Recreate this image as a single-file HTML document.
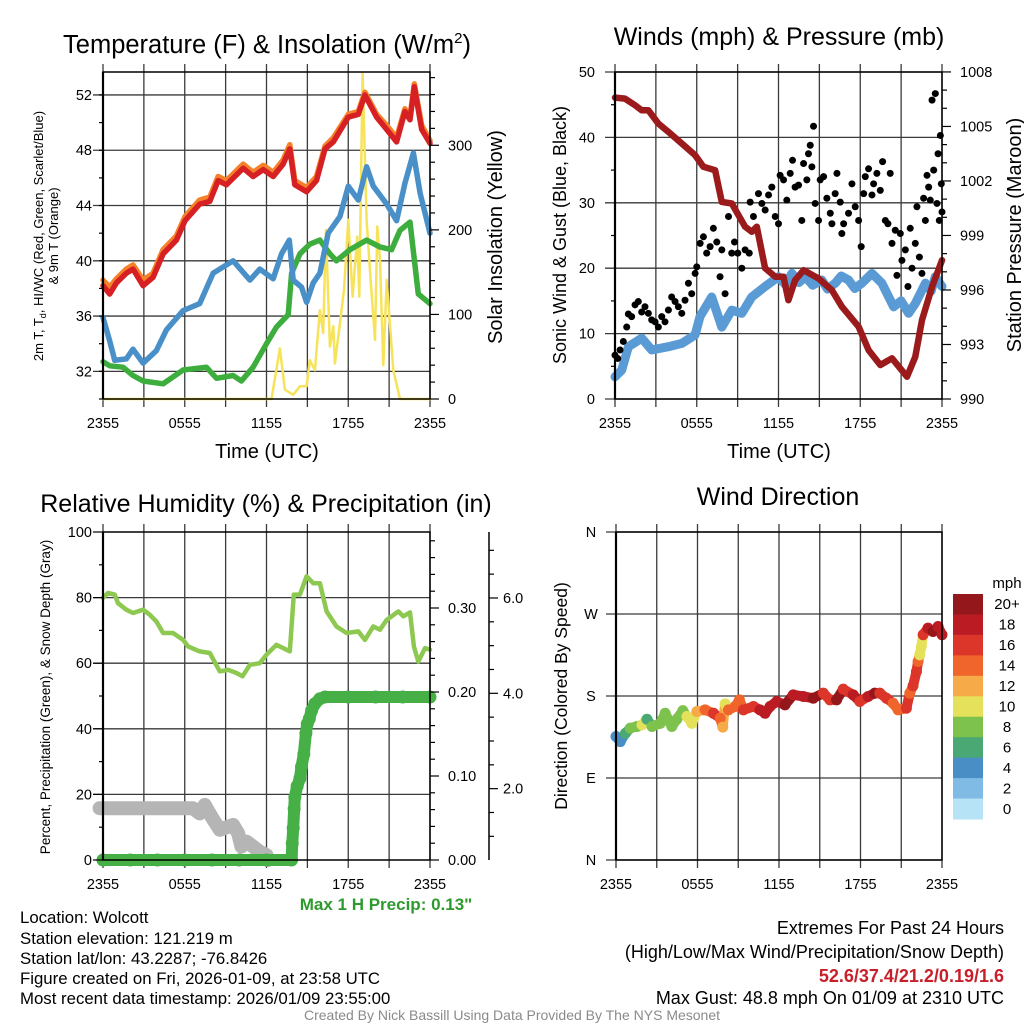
<!DOCTYPE html>
<html><head><meta charset="utf-8"><title>Wolcott Meteogram</title>
<style>
html,body{margin:0;padding:0;background:#fff;}
svg{display:block;font-family:"Liberation Sans",Arial,sans-serif;}
</style></head>
<body>
<svg id="chart" width="1024" height="1024" viewBox="0 0 1024 1024" xmlns="http://www.w3.org/2000/svg">
<rect x="0" y="0" width="1024" height="1024" fill="#fff"/>
<g id="layer-grid"></g>
<g id="layer-data"></g>
<g id="layer-axes"></g>
<g id="layer-text" fill="#000">
<text x="267" y="53" font-size="25.5" text-anchor="middle">Temperature (F) &amp; Insolation (W/m<tspan dy="-10" font-size="15">2</tspan><tspan dy="10">)</tspan></text>
<text x="779" y="45" font-size="25" text-anchor="middle">Winds (mph) &amp; Pressure (mb)</text>
<text x="266" y="512" font-size="25" text-anchor="middle">Relative Humidity (%) &amp; Precipitation (in)</text>
<text x="778" y="505" font-size="25" text-anchor="middle">Wind Direction</text>
<text x="267" y="458" font-size="20" text-anchor="middle">Time (UTC)</text>
<text x="779" y="458" font-size="20" text-anchor="middle">Time (UTC)</text>
<text transform="translate(43,236) rotate(-90)" font-size="13" text-anchor="middle">2m T, T<tspan dy="3" font-size="9">d</tspan><tspan dy="-3">, HI/WC (Red, Green, Scarlet/Blue)</tspan></text>
<text transform="translate(58,236) rotate(-90)" font-size="13" text-anchor="middle">&amp; 9m T (Orange)</text>
<text transform="translate(502,237) rotate(-90)" font-size="20" text-anchor="middle">Solar Insolation (Yellow)</text>
<text transform="translate(566,235) rotate(-90)" font-size="18" text-anchor="middle">Sonic Wind &amp; Gust (Blue, Black)</text>
<text transform="translate(1021,235) rotate(-90)" font-size="20" text-anchor="middle">Station Pressure (Maroon)</text>
<text transform="translate(50,697) rotate(-90)" font-size="13.5" text-anchor="middle">Percent, Precipitation (Green), &amp; Snow Depth (Gray)</text>
<text transform="translate(567,696) rotate(-90)" font-size="17.5" text-anchor="middle">Direction (Colored By Speed)</text>
<text x="386" y="910" font-size="17" font-weight="bold" fill="#2e9a2e" text-anchor="middle">Max 1 H Precip: 0.13"</text>
<g font-size="16.8">
<text x="20" y="923">Location: Wolcott</text>
<text x="20" y="944">Station elevation: 121.219 m</text>
<text x="20" y="964">Station lat/lon: 43.2287; -76.8426</text>
<text x="20" y="984">Figure created on Fri, 2026-01-09, at 23:58 UTC</text>
<text x="20" y="1004">Most recent data timestamp: 2026/01/09 23:55:00</text>
</g>
<g font-size="18" text-anchor="end">
<text x="1004" y="934">Extremes For Past 24 Hours</text>
<text x="1004" y="958">(High/Low/Max Wind/Precipitation/Snow Depth)</text>
<text x="1004" y="982" font-weight="bold" fill="#c8202a">52.6/37.4/21.2/0.19/1.6</text>
<text x="1004" y="1004">Max Gust: 48.8 mph On 01/09 at 2310 UTC</text>
</g>
<text x="512" y="1020" font-size="14" fill="#8a8a8a" text-anchor="middle">Created By Nick Bassill Using Data Provided By The NYS Mesonet</text>
</g>
</svg>
<script>
// ---------- DATA ----------
const timeTickHours=[0,6,12,18,24];
const timeTickLabels=['2355','0555','1155','1755','2355'];
const tempTicks=[32,36,40,44,48,52];
const insolTicks=[0,100,200,300];
const windTicks=[0,10,20,30,40,50];
const presTicks=[990,993,996,999,1002,1005,1008];
const rhTicks=[0,20,40,60,80,100];
const precipTicks=[0,0.1,0.2,0.3];
const precipTickLabels=['0.00','0.10','0.20','0.30'];
const snowTicks=[2,4,6];
const snowTickLabels=['2.0','4.0','6.0'];
const dirTicks=[0,90,180,270,360];
const dirTickLabels=['N','E','S','W','N'];
const speedBins=[0,2,4,6,8,10,12,14,16,18,20];
const speedLabels=['0','2','4','6','8','10','12','14','16','18','20+'];

const tempHours=[0,0.49,0.98,1.71,2.2,2.94,3.67,4.41,5.39,6.02,7.1,7.84,8.45,9.06,10.29,11.02,11.76,12.49,13.22,13.71,14.08,14.94,15.67,16.29,16.9,18.0,18.74,19.22,20.08,20.82,21.55,22.16,22.53,22.85,23.39,24];
const tempRed=[38.2,37.6,38.4,39.1,39.4,38.2,38.8,40.5,41.5,42.9,44.1,44.3,45.8,45.5,46.7,46.1,46.6,46.1,47.0,48.1,45.5,45.0,45.8,48.1,48.6,50.4,50.6,52.0,50.4,49.5,48.6,50.8,50.2,52.6,49.5,48.5];
const tempOrange=[38.6,38.1,38.7,39.4,39.7,38.6,39.1,40.8,41.8,43.2,44.4,44.6,46.1,45.8,47.0,46.4,46.9,46.4,47.3,48.4,45.8,45.3,46.1,48.3,48.9,50.6,50.8,52.2,50.6,49.8,48.9,51.0,50.4,52.8,49.8,48.7];
const dewHours=[0,0.49,0.86,1.71,2.2,2.94,3.92,4.65,5.88,7.1,8.08,9.55,10.78,11.51,12.49,13.1,13.67,13.96,14.57,14.94,15.43,15.92,16.53,17.39,18.0,18.74,19.35,19.84,20.82,21.55,22.16,22.78,23.27,24];
const dewBlue=[35.9,34.2,32.8,32.9,33.6,32.6,33.5,35.0,36.4,36.9,39.1,40.0,38.6,39.4,38.7,40.5,41.5,38.6,38.1,37.0,38.4,39.1,42.0,43.2,45.4,44.4,46.8,45.4,44.1,42.9,45.6,47.8,44.9,42.0];
const chillHours=[0,0.49,1.47,2.2,2.94,4.41,5.88,7.59,8.33,9.55,10.16,11.02,12.0,12.73,13.59,13.84,14.45,15.18,15.92,16.65,17.14,18.12,19.35,20.33,21.18,21.8,22.53,23.14,24];
const chillGreen=[32.7,32.4,32.3,31.7,31.3,31.1,32.1,32.3,31.5,31.7,31.3,32.3,34.0,35.2,36.1,39.1,40.5,41.2,41.5,40.5,40.0,40.8,41.5,41.0,40.8,42.2,42.8,37.6,36.9];
const insolHours=[0,12.37,12.98,13.35,13.96,14.45,14.94,15.18,15.55,15.92,16.16,16.36,16.65,16.9,17.02,17.39,17.69,18.0,18.32,18.66,18.81,19.05,19.35,19.64,19.96,20.13,20.33,20.57,20.82,21.31,21.8,24];
const insolValues=[0,0,60,11,5,15,15,46,34,105,78,200,62,86,42,89,129,212,121,192,121,385,212,141,70,204,164,40,141,34,0,0];

const windHours=[0,0.49,0.98,1.96,2.69,3.92,4.9,5.88,6.24,7.1,7.84,8.57,9.31,10.04,11.02,12.0,12.5,12.98,13.5,13.96,14.5,15.18,15.6,16.16,16.6,17.14,17.6,18.12,18.86,19.59,20.45,21.0,21.55,22.04,22.78,23.2,23.51,24];
const windSpeed=[3.4,4.4,8.0,9.3,7.5,8.0,8.5,9.8,12.6,15.6,11.0,13.6,13.1,15.6,17.2,18.7,17.5,19.2,17.8,18.7,17.4,18.2,16.8,17.7,18.8,18.2,16.9,17.7,19.2,17.7,14.1,15.0,13.1,14.6,17.7,16.5,18.7,17.2];
const presHours=[0,0.73,1.47,1.96,2.45,3.18,3.92,4.9,5.88,6.49,7.35,7.84,8.57,9.55,10.04,10.41,11.02,11.76,12.37,12.73,13.22,13.84,14.94,15.92,16.65,17.88,18.61,19.47,20.33,21.43,22.04,22.53,23.27,24];
const presValues=[1006.59,1006.53,1006.17,1005.89,1005.89,1005.16,1004.70,1004.06,1003.42,1002.78,1002.59,1000.85,1000.76,999.48,999.20,999.48,997.20,996.73,996.73,995.44,996.54,997.09,996.63,995.99,995.08,993.98,992.69,991.87,992.24,991.23,992.33,994.34,996.18,997.64];
const gustHours=[0.0,0.2,0.37,0.61,0.86,0.98,1.22,1.47,1.71,1.96,2.2,2.45,2.69,2.94,3.18,3.43,3.67,3.92,4.16,4.41,4.65,4.9,5.14,5.39,5.63,5.88,6.0,6.25,6.49,6.73,6.98,7.22,7.47,7.71,7.84,8.08,8.33,8.57,8.77,9.01,9.31,9.55,9.85,9.92,10.16,10.53,10.78,11.02,11.27,11.51,11.76,12.0,12.12,12.37,12.61,12.86,13.03,13.22,13.47,13.71,13.84,14.08,14.2,14.33,14.45,14.57,14.69,14.94,15.06,15.31,15.55,15.8,15.92,16.16,16.29,16.53,16.65,16.78,17.14,17.39,17.63,17.88,18.07,18.25,18.37,18.61,18.86,18.98,19.22,19.47,19.64,19.84,20.03,20.2,20.33,20.57,20.69,20.94,21.06,21.31,21.5,21.67,21.8,22.04,22.16,22.34,22.53,22.65,22.78,22.9,23.02,23.14,23.27,23.39,23.51,23.63,23.71,23.8,23.88,23.95,24.0];
const gustSpeed=[6.7,6.2,7.5,8.8,11,13,12.6,14.4,14.9,13.3,14.1,13.1,12.1,11.8,11,12.6,11.8,13.6,15.6,14.9,14.1,13.1,15.1,17.7,16.1,19.2,20.2,23.8,24.8,22.3,23.3,26.1,24,18.7,22.8,16.1,27.9,22.3,24,22.3,20,22.8,22.3,30.1,27.9,31.4,29.9,28.9,31.2,32.4,27.9,26.8,34.2,33.5,30.4,34.5,36.5,32.4,32.7,27.3,36,33.5,37.5,38.8,35.5,41.7,29.9,27.3,33.5,34,30.7,28.4,26.8,31.4,34.5,30.1,25.3,26.8,28.4,32.9,29.4,27.3,23.3,31.4,34,35.2,31.2,32.9,34.5,31.9,36.3,27.3,26.8,34.5,23.8,25.8,18.9,25.3,21.2,22.8,17.2,26.1,20,23.8,29.4,21.7,19.2,30.7,27.3,34.2,32.4,30.4,45.7,35,46.7,29.9,37.5,27.3,40.3,32.9,28.6];

const rhHours=[0,0.37,0.86,1.1,1.71,2.2,2.94,3.43,3.92,4.41,5.14,5.88,6.25,7.1,7.84,8.57,9.18,9.8,10.24,10.78,11.51,12.0,12.73,13.71,14.0,14.45,14.94,15.43,15.92,16.41,17.14,17.88,18.74,19.22,19.84,20.33,20.82,21.67,22.04,22.53,22.82,23.14,23.63,24];
const rhValues=[79.9,81.4,80.9,78.3,76.3,75.3,76.3,74.8,72.7,69.2,69.2,67.1,65.1,63.6,63.1,57.5,58.0,57.0,56.0,59.5,60.0,62.6,65.6,63.6,80.9,80.9,86.5,84.4,84.4,75.8,71.2,69.2,69.7,67.1,71.2,70.2,73.2,75.8,74.3,75.5,65.1,60.5,64.6,64.1];
const precipHours=[0,2,4,6,8,10,12,13.84,13.89,13.96,14.03,14.08,14.25,14.45,14.57,14.74,14.89,14.99,15.14,15.31,15.55,15.92,16.29,18,20,22,24];
const precipValues=[0,0,0,0,0,0,0,0,0.020,0.038,0.061,0.075,0.088,0.097,0.111,0.126,0.151,0.162,0.168,0.178,0.186,0.192,0.194,0.194,0.194,0.194,0.194];
const snowHours=[-0.25,2,4,6.6,7.1,7.47,7.96,8.57,9.55,9.92,10.16,10.53,11.02,11.51,12.0,12.12];
const snowDepth=[1.58,1.58,1.58,1.58,1.42,1.68,1.32,0.92,1.07,0.81,0.41,0.56,0.41,0.25,0.15,0.0];

const dirHours=[0,0.32,0.69,1.05,1.54,1.91,2.28,2.65,3.26,3.62,4.11,4.48,4.92,5.22,5.58,5.95,6.56,7.18,7.67,7.86,8.03,8.28,8.77,9.09,9.38,10.12,10.6,10.97,11.34,11.83,12.44,13.05,13.79,14.52,15.26,15.75,16.24,16.73,17.46,17.95,18.56,19.05,19.42,19.91,20.4,20.77,21.38,21.63,21.87,22.12,22.24,22.36,22.48,22.61,22.97,23.34,23.71,24];
const dirDegrees=[135.5,130,139,144.7,146.5,148.3,154.5,146.5,150,161,146.5,154.5,164,157.5,150,163,164.8,161,155.6,145.8,171.4,164.8,168.5,175.8,164.8,168.5,164.8,161,168.5,174,170.3,181.3,179.5,177.6,183.1,175.8,175.8,187.5,181.3,174,179.5,183.1,183.1,177.6,172.1,164.8,166.6,183.1,191.2,206.9,217.9,225.2,234.4,247.2,254.5,250.8,256.3,247.2];
const dirSpeed=[4,4,6,8,8,10,6,8,8,8,8,8,8,10,10,12,14,16,14,12,10,14,14,14,16,16,18,18,18,18,20,18,18,20,16,16,20,16,18,16,18,20,16,16,14,14,16,14,16,16,14,10,10,16,18,20,18,18];

// ---------- RENDER ----------
const NS='http://www.w3.org/2000/svg';
const gGrid=document.getElementById('layer-grid');
const gData=document.getElementById('layer-data');
const gAxes=document.getElementById('layer-axes');
const gText=document.getElementById('layer-text');
function el(tag,attrs,parent){const e=document.createElementNS(NS,tag);for(const k in attrs)e.setAttribute(k,attrs[k]);parent.appendChild(e);return e;}
function txt(s,x,y,size,anchor,parent){const e=el('text',{x:x,y:y,'font-size':size,'text-anchor':anchor},parent);e.textContent=s;return e;}

const P1={L:103,R:430,T:72,B:399};
const P2={L:615,R:942,T:72,B:399};
const P3={L:103,R:430,T:532,B:860};
const P4={L:616,R:942,T:532,B:860};
function xOf(P,h){return P.L+(P.R-P.L)*h/24;}
const yTemp=v=>399-(v-30)*13.82;
const yIns=v=>399-v*0.8457;
const yWind=v=>399-v*6.54;
const yPres=v=>399-(v-990)*18.17;
const yRH=v=>860-v*3.28;
const yPrecip=v=>860-v*840;
const ySnowPlot=v=>860-v*32.8;
const ySnowAxis=v=>884-v*47.67;
const yDir=v=>860-v*328/360;

function frame(P,name,hGridYs,topTicks){
  for(let h=0;h<=24;h+=3){
    const x=xOf(P,h);
    const l=el('line',{x1:x,x2:x,y1:topTicks?P.T-8:P.T,y2:P.B+8,stroke:'#3a3a3a','stroke-width':1.3},gGrid);
    
    
  }
  hGridYs.forEach(y=>{
    const l=el('line',{x1:P.L-10,x2:P.R,y1:y,y2:y,stroke:'#3a3a3a','stroke-width':1.3},gGrid);
    
    
  });
  const r=el('rect',{x:P.L,y:P.T,width:P.R-P.L,height:P.B-P.T,fill:'none',stroke:'#000','stroke-width':1.5},gAxes);
  
  
  const lb=el('line',{x1:P.L,x2:P.L,y1:P.T,y2:P.B,stroke:'#000','stroke-width':2.2},gAxes);
  
  
  timeTickHours.forEach((h,i)=>{
    const t=txt(timeTickLabels[i],xOf(P,h),P.B+29,14.5,'middle',gText);
    
    
  });
}
function tick(x1,x2,y,name){
  const l=el('line',{x1:x1,x2:x2,y1:y,y2:y,stroke:'#000','stroke-width':1.2},gAxes);
  
  
}
function line(P,hs,vs,yf,color,w,name){
  const pts=hs.map((h,i)=>xOf(P,h).toFixed(1)+','+yf(vs[i]).toFixed(1)).join(' ');
  const p=el('polyline',{points:pts,fill:'none',stroke:color,'stroke-width':w,'stroke-linejoin':'round','stroke-linecap':'round'},gData);
  
  
  return p;
}

// Panel 1
frame(P1,'temperature',tempTicks.map(yTemp),true);
tempTicks.forEach(v=>{const t=txt(String(v),92,yTemp(v)+5,14.5,'end',gText);
  
  });
for(let v=30;v<=53;v+=2){tick(P1.L-4,P1.L,yTemp(v),'temperature-minor-tick');}
for(let v=0;v<=380;v+=20){tick(P1.R,P1.R+(v%100===0?9:5),yIns(v),'insolation-tick');}
insolTicks.forEach(v=>{const t=txt(String(v),448,yIns(v)+5,14.5,'start',gText);
  
  });
line(P1,insolHours,insolValues,yIns,'#f7e35a',2.5,'insolation-line');
line(P1,chillHours,chillGreen,yTemp,'#3dae3d',5.5,'heat-index-wind-chill-line');
line(P1,dewHours,dewBlue,yTemp,'#4a90c8',5.5,'dewpoint-line');
line(P1,tempHours,tempOrange,yTemp,'#f5822a',5.5,'temperature-9m-line');
line(P1,tempHours,tempRed,yTemp,'#d62024',5.5,'temperature-2m-line');

// Panel 2
frame(P2,'winds',windTicks.map(yWind),true);
windTicks.forEach(v=>{const t=txt(String(v),595,yWind(v)+5,14.5,'end',gText);
  
  });
for(let v=5;v<=45;v+=10){tick(P2.L-4,P2.L,yWind(v),'wind-minor-tick');}
for(let v=990;v<=1008;v+=1){tick(P2.R,P2.R+((v-990)%3===0?9:5),yPres(v),'pressure-tick');}
presTicks.forEach(v=>{const t=txt(String(v),960,yPres(v)+5,14.5,'start',gText);
  
  });
line(P2,windHours,windSpeed,yWind,'#5a9bd5',9,'sonic-wind-line');
gustHours.forEach((h,i)=>{
  const c=el('circle',{cx:xOf(P2,h),cy:yWind(gustSpeed[i]),r:3.5,fill:'#000'},gData);
  
  
});
line(P2,presHours,presValues,yPres,'#9b1a1c',6.5,'pressure-line');

// Panel 3
frame(P3,'humidity',[20,40,60,80].map(yRH),true);
rhTicks.forEach(v=>{const t=txt(String(v),92,yRH(v)+5,14.5,'end',gText);
  
  });
rhTicks.forEach(v=>{tick(P3.L-10,P3.L,yRH(v),'humidity-major-tick');});
for(let v=10;v<=90;v+=20){tick(P3.L-4,P3.L,yRH(v),'humidity-minor-tick');}
for(let k=0;k<=19;k++){const v=k*0.02;tick(P3.R,P3.R+(k%5===0?9:5),yPrecip(v),'precip-tick');}
precipTicks.forEach((v,i)=>{const t=txt(precipTickLabels[i],448,yPrecip(v)+5,14.5,'start',gText);
  
  });
const snowAx=el('line',{x1:489,x2:489,y1:P3.T,y2:P3.B,stroke:'#000','stroke-width':1.5},gAxes);


for(let k=1;k<=14;k++){const v=k*0.5;const y=ySnowAxis(v);if(y>=P3.T&&y<=P3.B)tick(489,489+(k%4===0?9:5),y,'snow-depth-tick');}
snowTicks.forEach((v,i)=>{const t=txt(snowTickLabels[i],503,ySnowAxis(v)+5,14.5,'start',gText);
  
  });
line(P3,snowHours,snowDepth,ySnowPlot,'#b5b5b5',14,'snow-depth-line');
line(P3,rhHours,rhValues,yRH,'#8dc851',4.5,'relative-humidity-line');
line(P3,precipHours,precipValues,yPrecip,'#46b046',12,'precipitation-line');
precipHours.forEach((h,i)=>{
  const c=el('circle',{cx:xOf(P3,h),cy:yPrecip(precipValues[i]),r:6.5,fill:'#46b046'},gData);
  
  
});

// Panel 4
frame(P4,'direction',dirTicks.map(yDir),true);
dirTicks.forEach((v,i)=>{const t=txt(dirTickLabels[i],591,yDir(v)+5,14.5,'middle',gText);
  
  });
const binColors=['#b7e3f6','#7fbbe4','#4a8ec6','#4aa874','#7dc24c','#e5e15b','#f6ab48','#f0652c','#dc3529','#bb1c24','#94171b'];
function colorFor(s){let idx=0;speedBins.forEach((b,i)=>{if(s>=b)idx=i;});return binColors[idx];}
for(let i=0;i<dirHours.length-1;i++){
  const l=el('line',{x1:xOf(P4,dirHours[i]),y1:yDir(dirDegrees[i]),x2:xOf(P4,dirHours[i+1]),y2:yDir(dirDegrees[i+1]),stroke:colorFor(dirSpeed[i]),'stroke-width':10,'stroke-linecap':'round'},gData);
  
  
}
dirHours.forEach((h,i)=>{
  const c=el('circle',{cx:xOf(P4,h),cy:yDir(dirDegrees[i]),r:5.5,fill:colorFor(dirSpeed[i])},gData);
  
  
});
// colorbar
const cbT=594,cbH=225/11;
for(let i=0;i<speedBins.length;i++){
  const j=speedBins.length-1-i;
  const r=el('rect',{x:953,y:cbT+i*cbH,width:30,height:cbH+0.5,fill:binColors[j]},gData);
  
  
  const t=txt(speedLabels[j],1007,cbT+i*cbH+cbH/2+5,15,'middle',gText);
  
  
}
const mph=txt('mph',1007,588,15,'middle',gText);


</script>
</body></html>
